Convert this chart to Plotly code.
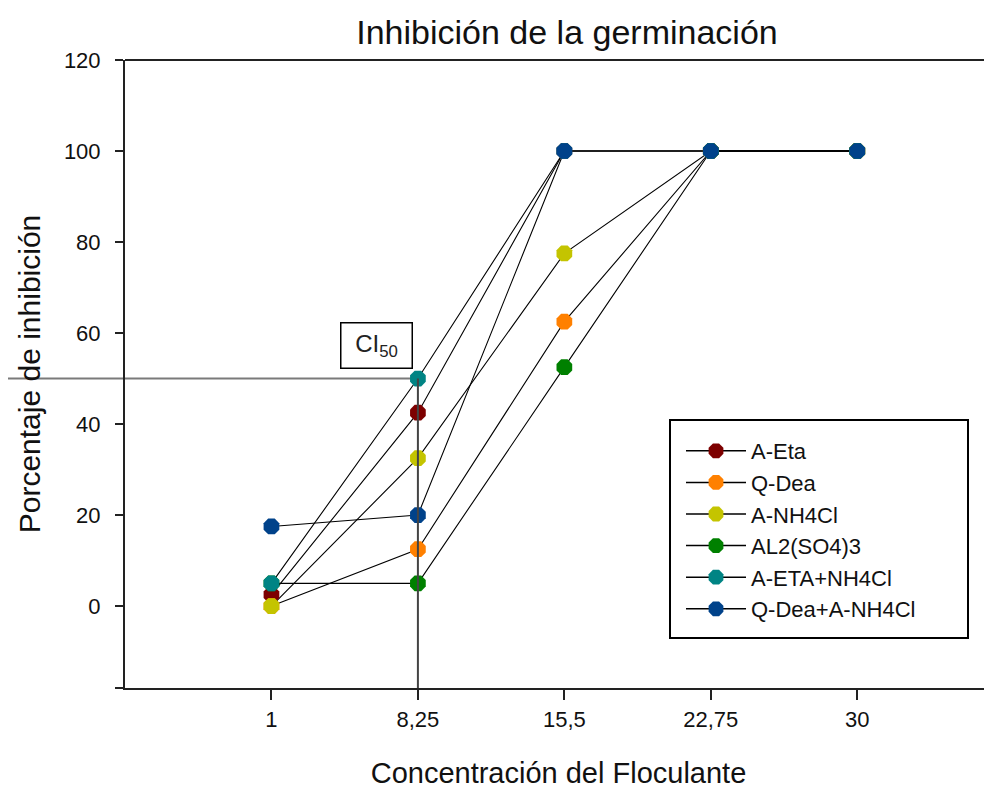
import plotly.graph_objects as go

CONC = ['1', '8,25', '15,5', '22,75', '30']

SERIES = ['A-Eta', 'Q-Dea', 'A-NH4Cl', 'AL2(SO4)3', 'A-ETA+NH4Cl', 'Q-Dea+A-NH4Cl']
a_eta = [2.5, 42.5, 100, 100, 100]
q_dea = [0, 12.5, 62.5, 100, 100]
a_nh4cl = [0, 32.5, 77.5, 100, 100]
al2so4 = [5, 5, 52.5, 100, 100]
a_eta_nh4cl = [5, 50, 100, 100, 100]
q_dea_a_nh4cl = [17.5, 20, 100, 100, 100]
VALUES = [a_eta, q_dea, a_nh4cl, al2so4, a_eta_nh4cl, q_dea_a_nh4cl]

COLORS = ['#7d0000', '#ff8000', '#c4c400', '#008000', '#008484', '#00428a']

CI50 = 50
CI_X = '8,25'

FONT = 'Liberation Sans, Arial, sans-serif'
XR = [-1, 4.92]
YR = [-18, 120]

W, H = 984, 781
ML, MT, MB = 117, 52, 101
PW, PH = W - ML, H - MT - MB


def px_x(x):
    # page pixel (page has an 8px body margin) -> paper x
    return (x - 8 - ML) / PW


def px_y(y):
    return (H - MB - (y - 8)) / PH


fig = go.Figure()

# lines first, so every marker sits on top of the black connectors
for name, vals in zip(SERIES, VALUES):
    fig.add_trace(go.Scatter(
        x=CONC, y=vals, mode='lines',
        line=dict(color='black', width=1.1),
        showlegend=False, hoverinfo='skip',
    ))

for name, vals, col in zip(SERIES, VALUES, COLORS):
    fig.add_trace(go.Scatter(
        x=CONC, y=vals, mode='markers',
        marker=dict(symbol='octagon', size=17, color=col, line=dict(width=0)),
        name=name, showlegend=False,
    ))

# legend entries (line + marker)
for name, col in zip(SERIES, COLORS):
    fig.add_trace(go.Scatter(
        x=[None], y=[None], mode='lines+markers',
        line=dict(color='black', width=1.5),
        marker=dict(symbol='octagon', size=16, color=col),
        name=name,
    ))

ci_idx = CONC.index(CI_X)
ci_paper = (ci_idx - XR[0]) / (XR[1] - XR[0])

# CI50 guide lines
fig.add_shape(type='line', xref='paper', yref='y',
              x0=-ML / PW, x1=ci_paper, y0=CI50, y1=CI50,
              line=dict(color='#7a7a7a', width=2), layer='below')
fig.add_shape(type='line', xref='x', yref='y',
              x0=ci_idx, x1=ci_idx, y0=YR[0], y1=CI50,
              line=dict(color='#444', width=2), layer='above')
# top frame line, and the bottom axis stub left of the y axis
fig.add_shape(type='line', xref='paper', yref='paper',
              x0=0, x1=1, y0=1, y1=1,
              line=dict(color='#222', width=2))
fig.add_shape(type='line', xref='paper', yref='paper',
              x0=px_x(115), x1=0, y0=0, y1=0,
              line=dict(color='#222', width=2))
# legend frame
fig.add_shape(type='rect', xref='paper', yref='paper',
              x0=px_x(670), x1=px_x(968), y0=px_y(638), y1=px_y(420),
              line=dict(color='black', width=2), fillcolor='white', layer='below')

fig.add_annotation(
    x=ci_idx, y=CI50, xref='x', yref='y',
    text='CI<sub>50</sub>', showarrow=False,
    xanchor='right', yanchor='bottom', xshift=-5, yshift=10,
    width=68, height=42,
    bordercolor='black', borderwidth=1.5, bgcolor='white',
    font=dict(family=FONT, size=24, color='#222'),
)

fig.update_layout(
    width=W, height=H,
    margin=dict(l=ML, r=0, t=MT, b=MB),
    paper_bgcolor='white', plot_bgcolor='white',
    font=dict(family=FONT, color='#111'),
    title=dict(text='Inhibición de la germinación', x=(567 - 8) / W, xanchor='center',
               y=1 - (32 - 8) / H, yanchor='middle',
               font=dict(family=FONT, size=34, color='#111')),
    legend=dict(x=px_x(681), y=px_y(430), xanchor='left', yanchor='top',
                bgcolor='rgba(0,0,0,0)', borderwidth=0,
                font=dict(family=FONT, size=22, color='#111'),
                itemwidth=60, tracegroupgap=0),
    showlegend=True,
)

fig.update_xaxes(
    type='category', range=XR,
    showline=True, linecolor='#222', linewidth=2,
    ticks='outside', ticklen=10, tickwidth=2, tickcolor='#222',
    tickfont=dict(family=FONT, size=22, color='#111'),
    ticklabelstandoff=1,
    showgrid=False, zeroline=False,
    title=dict(text='Concentración del Floculante', standoff=35,
               font=dict(family=FONT, size=29, color='#111')),
)
fig.update_yaxes(
    range=YR, tickvals=[0, 20, 40, 60, 80, 100, 120],
    showline=True, linecolor='#222', linewidth=2,
    ticks='outside', ticklen=8, tickwidth=2, tickcolor='#222',
    tickfont=dict(family=FONT, size=22, color='#111'),
    ticklabelstandoff=10,
    showgrid=False, zeroline=False,
    title=dict(text='Porcentaje de inhibición', standoff=14,
               font=dict(family=FONT, size=30, color='#111')),
)

fig.write_html('out.html')
